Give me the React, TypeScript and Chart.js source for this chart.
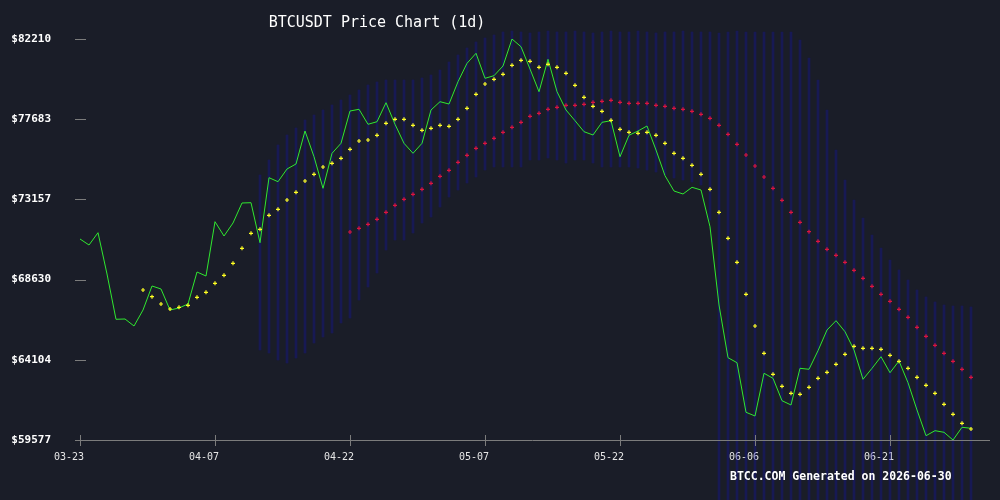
import React, { useEffect, useRef } from 'react';
import { Chart, registerables } from 'chart.js';

Chart.register(...registerables);

const DATES = [
  '03-23','03-24','03-25','03-26','03-27','03-28','03-29','03-30','03-31',
  '04-01','04-02','04-03','04-04','04-05','04-06','04-07','04-08','04-09','04-10',
  '04-11','04-12','04-13','04-14','04-15','04-16','04-17','04-18','04-19','04-20',
  '04-21','04-22','04-23','04-24','04-25','04-26','04-27','04-28','04-29','04-30',
  '05-01','05-02','05-03','05-04','05-05','05-06','05-07','05-08','05-09','05-10',
  '05-11','05-12','05-13','05-14','05-15','05-16','05-17','05-18','05-19','05-20',
  '05-21','05-22','05-23','05-24','05-25','05-26','05-27','05-28','05-29','05-30','05-31',
  '06-01','06-02','06-03','06-04','06-05','06-06','06-07','06-08','06-09','06-10',
  '06-11','06-12','06-13','06-14','06-15','06-16','06-17','06-18','06-19','06-20',
  '06-21','06-22','06-23','06-24','06-25','06-26','06-27','06-28','06-29','06-30',
];

const X_TICK_LABELS = ['03-23', '04-07', '04-22', '05-07', '05-22', '06-06', '06-21'];
const Y_TICKS = [59577, 64104, 68630, 73157, 77683, 82210];

const CLOSE = [
  70922, 70583, 71277, 68946, 66390, 66407, 66011, 66914, 68269, 68100,
  66914, 67027, 67253, 69059, 68833, 71898, 71091, 71825, 72954, 72971,
  70713, 74382, 74156, 74873, 75155, 77017, 75567, 73783, 75759, 76323,
  78146, 78242, 77396, 77542, 78615, 77396, 76323, 75759, 76323, 78203,
  78671, 78541, 79800, 80838, 81403, 79992, 80139, 80686, 82210, 81775,
  80517, 79236, 81064, 79236, 78203, 77599, 76978, 76792, 77508, 77599,
  75567, 76775, 77017, 77300, 75945, 74494, 73631, 73462, 73840, 73687,
  71616, 67197, 64222, 63940, 61141, 60932, 63342, 63060, 61795, 61553,
  63624, 63568, 64617, 65786, 66311, 65690, 64657, 63003, 63624, 64279,
  63376, 64036, 62811, 61270, 59820, 60102, 60012, 59577, 60294, 60238,
];

const MA_FAST = [
  null, null, null, null, null, null, null, 68043, 67665, 67253,
  66971, 67067, 67180, 67631, 67914, 68421, 68873, 69550, 70397, 71244,
  71469, 72259, 72598, 73123, 73558, 74195, 74573, 74986, 75194, 75477,
  75985, 76453, 76509, 76775, 77452, 77678, 77678, 77339, 77057, 77170,
  77339, 77283, 77678, 78299, 79089, 79670, 79935, 80218, 80726, 81008,
  80951, 80613, 80782, 80613, 80274, 79597, 78919, 78411, 78129, 77621,
  77113, 76944, 76888, 76944, 76775, 76323, 75759, 75477, 75082, 74573,
  73727, 72429, 70961, 69607, 67801, 66011, 64471, 63285, 62608, 62213,
  62156, 62552, 63060, 63398, 63850, 64414, 64866, 64753, 64753, 64696,
  64358, 64019, 63624, 63116, 62664, 62213, 61592, 61028, 60520, 60198,
];

const MA_SLOW = [
  null, null, null, null, null, null, null, null, null, null,
  null, null, null, null, null, null, null, null, null, null,
  null, null, null, null, null, null, null, null, null, null,
  71317, 71526, 71751, 72034, 72429, 72824, 73163, 73445, 73727, 74066,
  74461, 74799, 75251, 75646, 76041, 76323, 76605, 76944, 77226, 77508,
  77847, 78016, 78242, 78355, 78468, 78468, 78524, 78637, 78694, 78750,
  78637, 78581, 78581, 78581, 78468, 78411, 78299, 78242, 78129, 77960,
  77734, 77339, 76831, 76267, 75663, 75042, 74421, 73783, 73106, 72429,
  71864, 71334, 70792, 70340, 70002, 69607, 69155, 68704, 68252, 67801,
  67406, 66954, 66502, 65938, 65430, 64922, 64471, 64019, 63568, 63116,
];

const BAND_UPPER = [
  null, null, null, null, null, null, null, null, null, null,
  null, null, null, null, null, null, null, null, null, null,
  74534, 75381, 76227, 76792, 77187, 77638, 77920, 78203, 78485, 78767,
  79049, 79332, 79614, 79783, 79896, 79896, 79896, 79896, 80009, 80178,
  80460, 80912, 81307, 81702, 82041, 82266, 82436, 82605, 82660, 82605,
  82550, 82605, 82660, 82605, 82605, 82660, 82605, 82550, 82605, 82660,
  82605, 82605, 82660, 82605, 82550, 82605, 82605, 82660, 82605, 82605,
  82605, 82550, 82605, 82660, 82605, 82605, 82605, 82605, 82605, 82605,
  82154, 81138, 79896, 78203, 75945, 74252, 73123, 72107, 71148, 70414,
  69737, 69172, 68607, 68043, 67648, 67366, 67197, 67140, 67140, 67084,
];

const BAND_LOWER = [
  null, null, null, null, null, null, null, null, null, null,
  null, null, null, null, null, null, null, null, null, null,
  64657, 64488, 64092, 63923, 64205, 64488, 65052, 65391, 65616, 66181,
  66463, 67479, 68213, 69003, 70301, 70865, 70865, 71260, 71825, 72163,
  72728, 73292, 73687, 74083, 74421, 74816, 74986, 74986, 74986, 74986,
  75381, 75381, 75494, 75381, 75211, 75381, 75381, 75211, 74986, 74986,
  74986, 74986, 74929, 74816, 74703, 74534, 74365, 74252, 74139, 73970,
  71994, 55200, 54800, 54500, 54300, 54600, 54900, 55100, 55300, 55000,
  54700, 54900, 55200, 55400, 55100, 54800, 55000, 55300, 55400, 55200,
  55000, 55300, 55400, 55200, 55100, 54900, 55300, 55000, 55200, 55400,
];

const TITLE = 'BTCUSDT Price Chart (1d)';
const FOOTER = 'BTCC.COM Generated on 2026-06-30';

const MONO = '"DejaVu Sans Mono", "Liberation Mono", monospace';
const BG = '#1a1d28';
const BAND_COLOR = 'rgba(20, 20, 165, 0.35)';
const GREEN = '#30e830';
const YELLOW = '#ffff22';
const RED = '#dc143c';
const AXIS_GRAY = '#7c7c7c';

const decorPlugin = {
  id: 'decor',
  beforeDraw(chart: any) {
    const { ctx, width, height } = chart;
    ctx.save();
    ctx.fillStyle = BG;
    ctx.fillRect(0, 0, width, height);
    ctx.restore();
  },
  afterDraw(chart: any) {
    const { ctx, chartArea } = chart;
    const xs = chart.scales.x;
    const ys = chart.scales.y;
    ctx.save();
    ctx.strokeStyle = AXIS_GRAY;
    ctx.lineWidth = 1;
    // x axis line
    const ay = Math.round(chartArea.bottom) + 0.5;
    ctx.beginPath();
    ctx.moveTo(chartArea.left - 5, ay);
    ctx.lineTo(chartArea.right + 19, ay);
    ctx.stroke();
    // x tick marks
    X_TICK_LABELS.forEach((lab) => {
      const idx = DATES.indexOf(lab);
      const px = Math.round(xs.getPixelForValue(idx)) + 0.5;
      ctx.beginPath();
      ctx.moveTo(px, chartArea.bottom - 5);
      ctx.lineTo(px, chartArea.bottom + 6);
      ctx.stroke();
    });
    // y tick marks
    ys.ticks.forEach((t: any) => {
      const py = Math.round(ys.getPixelForValue(t.value)) + 0.5;
      ctx.beginPath();
      ctx.moveTo(chartArea.left - 5, py);
      ctx.lineTo(chartArea.left + 6, py);
      ctx.stroke();
    });
    // title
    ctx.fillStyle = '#ffffff';
    ctx.textBaseline = 'middle';
    ctx.textAlign = 'center';
    ctx.font = `15px ${MONO}`;
    ctx.fillText(TITLE, 377, 23);
    // footer
    ctx.textAlign = 'left';
    ctx.font = `bold 11.5px ${MONO}`;
    ctx.fillText(FOOTER, 730, 477);
    ctx.restore();
  },
};

export default function App() {
  const ref = useRef<HTMLCanvasElement | null>(null);

  useEffect(() => {
    if (!ref.current) return;
    const bandData = DATES.map((_, i) =>
      BAND_UPPER[i] == null || BAND_LOWER[i] == null ? null : [BAND_LOWER[i], BAND_UPPER[i]]
    );
    const chart = new Chart(ref.current, {
      type: 'bar',
      data: {
        labels: DATES,
        datasets: [
          {
            type: 'bar',
            data: bandData as any,
            backgroundColor: BAND_COLOR,
            borderWidth: 0,
            barThickness: 2,
            order: 4,
            clip: false as any,
          },
          {
            type: 'line',
            data: CLOSE,
            borderColor: GREEN,
            borderWidth: 1,
            pointRadius: 0,
            tension: 0,
            fill: false,
            order: 3,
          },
          {
            type: 'line',
            data: MA_FAST as any,
            showLine: false,
            pointStyle: 'cross',
            pointRadius: 2,
            borderColor: YELLOW,
            pointBorderColor: YELLOW,
            pointBorderWidth: 1.2,
            order: 2,
          },
          {
            type: 'line',
            data: MA_SLOW as any,
            showLine: false,
            pointStyle: 'cross',
            pointRadius: 2,
            borderColor: RED,
            pointBorderColor: RED,
            pointBorderWidth: 1.2,
            order: 1,
          },
        ] as any,
      },
      options: {
        animation: false,
        responsive: false,
        devicePixelRatio: 1,
        layout: { padding: { top: 39, right: 29, left: 0, bottom: 0 } },
        plugins: {
          legend: { display: false },
          tooltip: { enabled: false },
          title: { display: false },
        },
        scales: {
          x: {
            type: 'category',
            offset: false,
            grid: { display: false, drawTicks: false },
            border: { display: false },
            ticks: {
              autoSkip: false,
              maxRotation: 0,
              minRotation: 0,
              padding: 11,
              labelOffset: -11,
              color: '#e6e6e6',
              font: { family: MONO, size: 10 },
              callback: (_v: any, i: number) => (X_TICK_LABELS.includes(DATES[i]) ? DATES[i] : ''),
            },
            afterFit: (s: any) => {
              s.height = 60;
            },
          },
          y: {
            type: 'linear',
            min: Y_TICKS[0],
            max: Y_TICKS[Y_TICKS.length - 1],
            grid: { display: false, drawTicks: false },
            border: { display: false },
            afterBuildTicks: (s: any) => {
              s.ticks = Y_TICKS.map((v) => ({ value: v }));
            },
            ticks: {
              padding: 29,
              color: '#ffffff',
              font: { family: MONO, size: 11, weight: 'bold' },
              callback: (v: any) => '$' + Math.round(Number(v)),
            },
            afterFit: (s: any) => {
              s.width = 80;
            },
          },
        },
      } as any,
      plugins: [decorPlugin],
    });
    return () => chart.destroy();
  }, []);

  return (
    <div style={{ position: 'fixed', left: 0, top: 0, width: 1000, height: 500, background: BG }}>
      <canvas ref={ref} width={1000} height={500} style={{ display: 'block', width: 1000, height: 500 }} />
    </div>
  );
}
